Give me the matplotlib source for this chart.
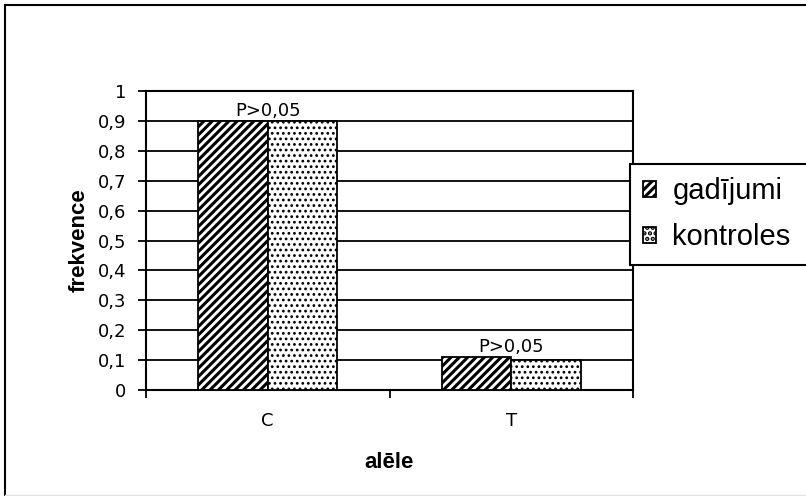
import matplotlib.pyplot as plt
import numpy as np
from matplotlib.lines import Line2D

plt.rcParams['font.family'] = ['Liberation Sans', 'DejaVu Sans']
plt.rcParams['hatch.linewidth'] = 2.2

alleles = ['C', 'T']
gadijumi = [0.90, 0.11]
kontroles = [0.90, 0.10]
p_labels = ['P>0,05', 'P>0,05']

fig = plt.figure(figsize=(8.06, 4.96), dpi=100)
ax = fig.add_axes([146 / 806, 1 - 390 / 496, (633 - 146) / 806, (390 - 91) / 496])

# outer chart frame: left and top edges, light bottom edge
fig.add_artist(Line2D([5 / 806, 5 / 806], [0.0, 1 - 5 / 496], transform=fig.transFigure,
                      color='black', linewidth=1.5))
fig.add_artist(Line2D([5 / 806, 1.0], [1 - 5 / 496, 1 - 5 / 496], transform=fig.transFigure,
                      color='black', linewidth=1.5))
fig.add_artist(Line2D([5 / 806, 1.0], [1.5 / 496, 1.5 / 496], transform=fig.transFigure,
                      color='#e4e4e4', linewidth=1.0))

x = np.arange(len(alleles))
w = 0.285
b1 = ax.bar(x - w / 2, gadijumi, w, facecolor='white', edgecolor='black', hatch='////',
            linewidth=1.3, label='gadījumi', zorder=3)
with plt.rc_context({'hatch.linewidth': 1.2}):
    b2 = ax.bar(x + w / 2, kontroles, w, facecolor='white', edgecolor='black', hatch='...',
                linewidth=1.3, label='kontroles', zorder=3)

tick_font = dict(family='DejaVu Sans', size=13)
for i, lab in enumerate(p_labels):
    top = max(gadijumi[i], kontroles[i])
    ax.annotate(lab, (x[i], top), xytext=(0, 1), textcoords='offset points',
                ha='center', va='bottom', **tick_font)

ax.set_xlim(-0.5, 1.5)
ax.set_ylim(0, 1)
ax.set_yticks(np.arange(0, 1.01, 0.1))
ax.set_yticklabels(['0'] + [f'{v:.1f}'.replace('.', ',') for v in np.arange(0.1, 0.95, 0.1)] + ['1'],
                   **tick_font)
ax.yaxis.grid(True, color='black', linewidth=1.3)
ax.set_axisbelow(True)

ax.set_xticks([-0.5, 0.5, 1.5])
ax.set_xticklabels([])
ax.set_xticks(x, minor=True)
ax.set_xticklabels(alleles, minor=True, **tick_font)
ax.tick_params(axis='x', which='minor', length=0, pad=16)
ax.tick_params(axis='both', which='major', length=6, width=1.3, direction='out')
ax.tick_params(axis='y', pad=8)

for s in ax.spines.values():
    s.set_linewidth(1.5)

ax.set_xlabel('alēle', fontsize=16, fontweight='bold', labelpad=16)
ax.set_ylabel('frekvence', fontsize=16, fontweight='bold', labelpad=6)

# legend box runs off the right edge
leg = fig.legend(handles=[b1, b2], loc='upper left', mode='expand',
                 bbox_to_anchor=(630 / 806, 1 - 264 / 496, 190 / 806, 100 / 496),
                 fontsize=21, frameon=True, fancybox=False, framealpha=1, edgecolor='black',
                 handlelength=0.45, handleheight=0.45, handletextpad=0.55, borderpad=0.45,
                 labelspacing=0.63, borderaxespad=0)
leg.get_frame().set_linewidth(1.5)

fig.savefig('out.png', dpi=100)
